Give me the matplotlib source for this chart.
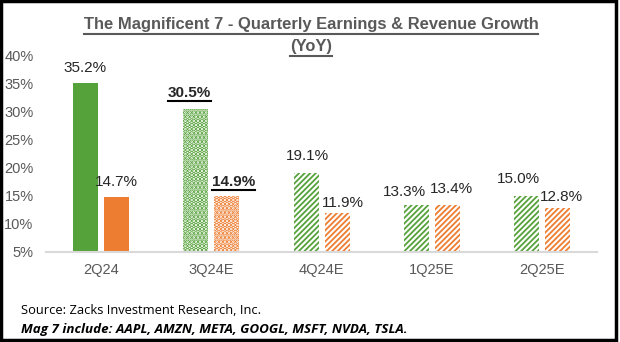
import matplotlib.pyplot as plt
from matplotlib.lines import Line2D
from matplotlib.patches import Rectangle

quarters = ["2Q24", "3Q24E", "4Q24E", "1Q25E", "2Q25E"]
earnings = [35.2, 30.5, 19.1, 13.3, 15.0]
revenue = [14.7, 14.9, 11.9, 13.4, 12.8]
y_ticks = [5, 10, 15, 20, 25, 30, 35, 40]

# bar fill style per quarter: solid, dots, stripes
fills = ["solid", "dots", "stripes", "stripes", "stripes"]
# manual label nudges (pixels) like the hand-placed Excel labels
earn_nudge = [(-1, 15), (-6, 16), (1, 17), (-12, 13), (-8, 17)]
rev_nudge = [(0, 15), (7, 14), (6, 10), (4, 16), (4, 11)]
bold_quarter = 1

GREEN = "#56A23A"
ORANGE = "#ED7D31"
GRAY = "#595959"
LABEL = "#262626"

plt.rcParams["font.family"] = ["Liberation Sans", "DejaVu Sans"]

fig = plt.figure(figsize=(6.2, 3.42), dpi=100)
ax = fig.add_axes([46 / 620, 1 - 251.7 / 342, 551 / 620, 196 / 342])

w = 25 / 110.2
off = 15.5 / 110.2


def draw_bar(x, val, color, fill):
    if fill == "solid":
        return ax.bar(x, val - 5, w, bottom=5, color=color, linewidth=0)
    if fill == "dots":
        plt.rcParams["hatch.linewidth"] = 2.4
        hatch = "...."
    else:
        plt.rcParams["hatch.linewidth"] = 1.3
        hatch = "//////"
    return ax.bar(x, val - 5, w, bottom=5, facecolor="white",
                  edgecolor=color, hatch=hatch, linewidth=0)


labels = []
for i, q in enumerate(quarters):
    draw_bar(i - off, earnings[i], GREEN, fills[i])
    draw_bar(i + off, revenue[i], ORANGE, fills[i])
    weight = "bold" if i == bold_quarter else "normal"
    for x, v, (dx, dy) in [(i - off, earnings[i], earn_nudge[i]),
                           (i + off, revenue[i], rev_nudge[i])]:
        t = ax.annotate(f"{v:.1f}%", (x, v), xytext=(dx * 0.72, dy * 0.72),
                        textcoords="offset points", ha="center", va="center",
                        fontsize=11, color=LABEL, fontweight=weight,
                        annotation_clip=False)
        if i == bold_quarter:
            labels.append(t)

ax.set_xlim(-0.5, 4.5)
ax.set_ylim(5, 40)
ax.set_yticks(y_ticks)
ax.set_yticklabels([f"{t}%" for t in y_ticks])
ax.set_xticks(range(len(quarters)))
ax.set_xticklabels(quarters)
ax.tick_params(axis="y", length=0, pad=9, labelsize=10.5, labelcolor=GRAY)
ax.tick_params(axis="x", length=0, pad=8, labelsize=10.5, labelcolor=GRAY)
for s in ["top", "right", "left"]:
    ax.spines[s].set_visible(False)
ax.spines["bottom"].set_color("#D9D9D9")
ax.spines["bottom"].set_linewidth(1.5)

t1 = fig.text(311 / 620, 1 - 25 / 342, "The Magnificent 7 - Quarterly Earnings & Revenue Growth",
              ha="center", va="center", fontsize=11.9, fontweight="bold", color=GRAY)
t2 = fig.text(311 / 620, 1 - 47 / 342, "(YoY)",
              ha="center", va="center", fontsize=11.9, fontweight="bold", color=GRAY)

fig.text(21 / 620, 1 - 310 / 342, "Source: Zacks Investment Research, Inc.",
         ha="left", va="center", fontsize=9.3, family="Open Sans", color="#000000")
fig.text(21 / 620, 1 - 329 / 342, "Mag 7 include: AAPL, AMZN, META, GOOGL, MSFT, NVDA, TSLA.",
         ha="left", va="center", fontsize=9.6, family="Open Sans",
         fontweight="bold", fontstyle="italic", color="#000000")

# underline title lines and the bold labels
fig.canvas.draw()
r = fig.canvas.get_renderer()
for t, col in [(t1, GRAY), (t2, GRAY)] + [(t, "#000000") for t in labels]:
    bb = t.get_window_extent(r)
    y = bb.y0 - 1
    fig.add_artist(Line2D([bb.x0 / 620, bb.x1 / 620], [y / 342, y / 342],
                          transform=fig.transFigure, color=col, linewidth=1.5))

fig.add_artist(Rectangle((0.002, 0.006), 0.992, 0.99, transform=fig.transFigure,
                         fill=False, edgecolor="black", linewidth=2.5))

fig.savefig("out.png", dpi=100)
